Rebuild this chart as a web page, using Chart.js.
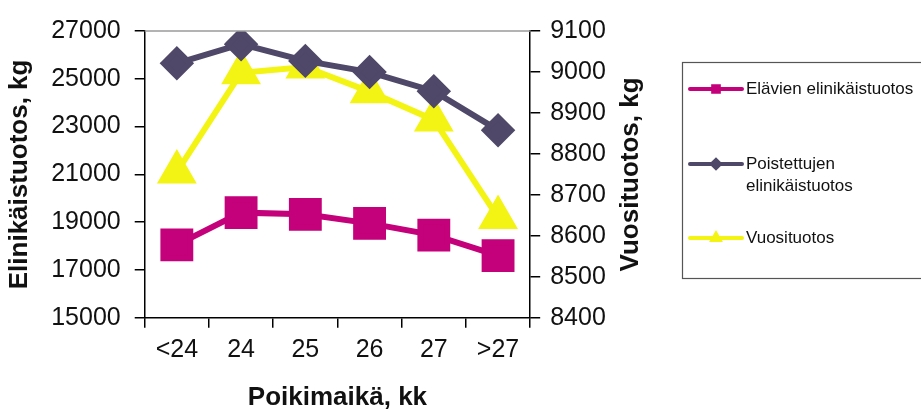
<!DOCTYPE html>
<html>
<head>
<meta charset="utf-8">
<script src="https://cdn.jsdelivr.net/npm/chart.js@4"></script>
<style>
  html, body { margin: 0; padding: 0; background: #fff; }
  #wrap { width: 921px; height: 413px; }
</style>
</head>
<body>
<div id="wrap"><canvas id="lifeChart" width="921" height="413"></canvas></div>
<script>
// data
const categories = ['<24', '24', '25', '26', '27', '>27'];
const elavat = [18050, 19400, 19330, 18950, 18460, 17600];
const poistetut = [25650, 26450, 25750, 25280, 24480, 22850];
const vuosituotos = [8756, 8998, 9012, 8952, 8883, 8645];

const leftTicks = [15000, 17000, 19000, 21000, 23000, 25000, 27000];
const rightTicks = [8400, 8500, 8600, 8700, 8800, 8900, 9000, 9100];

const seriesNames = [['Elävien elinikäistuotos'], ['Poistettujen', 'elinikäistuotos'], ['Vuosituotos']];
const seriesColors = ['#c4007a', '#4f4868', '#f4f414'];
const seriesMarkers = ['rect', 'rectRot', 'triangle'];
const rightTitle = 'Vuosituotos, kg';

const FONT = 'Arial, "Liberation Sans", sans-serif';

// gray line along the top of the plot, right title read bottom-up
const extras = {
    id: 'extras',
    afterDraw(chart) {
        const a = chart.chartArea;
        const ctx = chart.ctx;
        ctx.save();
        ctx.strokeStyle = '#9a9a9a';
        ctx.lineWidth = 1.5;
        ctx.beginPath();
        ctx.moveTo(a.left, a.top);
        ctx.lineTo(a.right, a.top);
        ctx.stroke();

        const s = chart.scales.y1;
        ctx.translate(s.right - 18, (a.top + a.bottom) / 2);
        ctx.rotate(-Math.PI / 2);
        ctx.font = 'bold 26px ' + FONT;
        ctx.fillStyle = '#111';
        ctx.textAlign = 'center';
        ctx.textBaseline = 'middle';
        ctx.fillText(rightTitle, 0, 0);
        ctx.restore();
    }
};

// boxed legend on the right
const boxLegend = {
    id: 'boxLegend',
    afterDraw(chart) {
        const ctx = chart.ctx;
        ctx.save();
        ctx.strokeStyle = '#555';
        ctx.lineWidth = 1.2;
        ctx.strokeRect(682.5, 62.5, 260, 216);

        const rows = [89, 164, 238];
        ctx.font = '17px ' + FONT;
        ctx.textBaseline = 'middle';
        seriesNames.forEach((lines, i) => {
            const y = rows[i];
            ctx.strokeStyle = seriesColors[i];
            ctx.lineWidth = 4;
            ctx.lineCap = 'round';
            ctx.beginPath();
            ctx.moveTo(690, y);
            ctx.lineTo(742, y);
            ctx.stroke();
            Chart.helpers.drawPoint(ctx, {
                pointStyle: seriesMarkers[i],
                radius: 4,
                borderWidth: 1
            }, 716, y);
            ctx.fillStyle = seriesColors[i];
            ctx.fill();
            ctx.fillStyle = '#111';
            lines.forEach((t, k) => ctx.fillText(t, 746, y + k * 22));
        });
        ctx.restore();
    }
};

const plain = v => String(v);

const ctx = document.getElementById('lifeChart').getContext('2d');
new Chart(ctx, {
    type: 'line',
    data: {
        labels: categories,
        datasets: [{
            label: seriesNames[0].join(' '),
            data: elavat,
            yAxisID: 'y',
            borderColor: seriesColors[0],
            backgroundColor: seriesColors[0],
            borderWidth: 6,
            pointStyle: seriesMarkers[0],
            pointRadius: 19,
            order: 3
        }, {
            label: seriesNames[1].join(' '),
            data: poistetut,
            yAxisID: 'y',
            borderColor: seriesColors[1],
            backgroundColor: seriesColors[1],
            borderWidth: 6,
            pointStyle: seriesMarkers[1],
            pointRadius: 13,
            order: 1
        }, {
            label: seriesNames[2].join(' '),
            data: vuosituotos,
            yAxisID: 'y1',
            borderColor: seriesColors[2],
            backgroundColor: seriesColors[2],
            borderWidth: 6,
            pointStyle: seriesMarkers[2],
            pointRadius: 17,
            order: 2
        }]
    },
    options: {
        responsive: false,
        animation: false,
        layout: { padding: { left: 0, right: 272, top: 31, bottom: 0 } },
        plugins: {
            legend: { display: false },
            tooltip: { enabled: false }
        },
        elements: { line: { tension: 0 }, point: { borderWidth: 0 } },
        scales: {
            x: {
                offset: true,
                grid: { offset: true, drawOnChartArea: false, color: '#000', tickLength: 10, lineWidth: 1.5 },
                border: { color: '#000', width: 1.5 },
                ticks: { color: '#111', font: { family: FONT, size: 25 }, padding: 7, maxRotation: 0 },
                title: { display: true, text: 'Poikimaikä, kk', color: '#111', font: { family: FONT, size: 26, weight: 'bold' }, padding: { top: 10, bottom: 0 } }
            },
            y: {
                position: 'left',
                min: leftTicks[0],
                max: leftTicks[leftTicks.length - 1],
                afterBuildTicks: axis => { axis.ticks = leftTicks.map(v => ({ value: v })); },
                grid: { drawOnChartArea: false, color: '#000', tickLength: 10, lineWidth: 1.5 },
                border: { color: '#000', width: 1.5 },
                ticks: { color: '#111', font: { family: FONT, size: 25 }, padding: 14, callback: plain },
                title: { display: true, text: 'Elinikäistuotos, kg', color: '#111', font: { family: FONT, size: 26, weight: 'bold' }, padding: { top: 4, bottom: 2 } }
            },
            y1: {
                position: 'right',
                min: rightTicks[0],
                max: rightTicks[rightTicks.length - 1],
                afterBuildTicks: axis => { axis.ticks = rightTicks.map(v => ({ value: v })); },
                grid: { drawOnChartArea: false, color: '#000', tickLength: 10, lineWidth: 1.5 },
                border: { color: '#000', width: 1.5 },
                ticks: { color: '#111', font: { family: FONT, size: 25 }, padding: 10, callback: plain },
                title: { display: true, text: rightTitle, color: 'rgba(0,0,0,0)', font: { family: FONT, size: 26, weight: 'bold' }, padding: { top: 2, bottom: 0 } }
            }
        }
    },
    plugins: [extras, boxLegend]
});
</script>
</body>
</html>
